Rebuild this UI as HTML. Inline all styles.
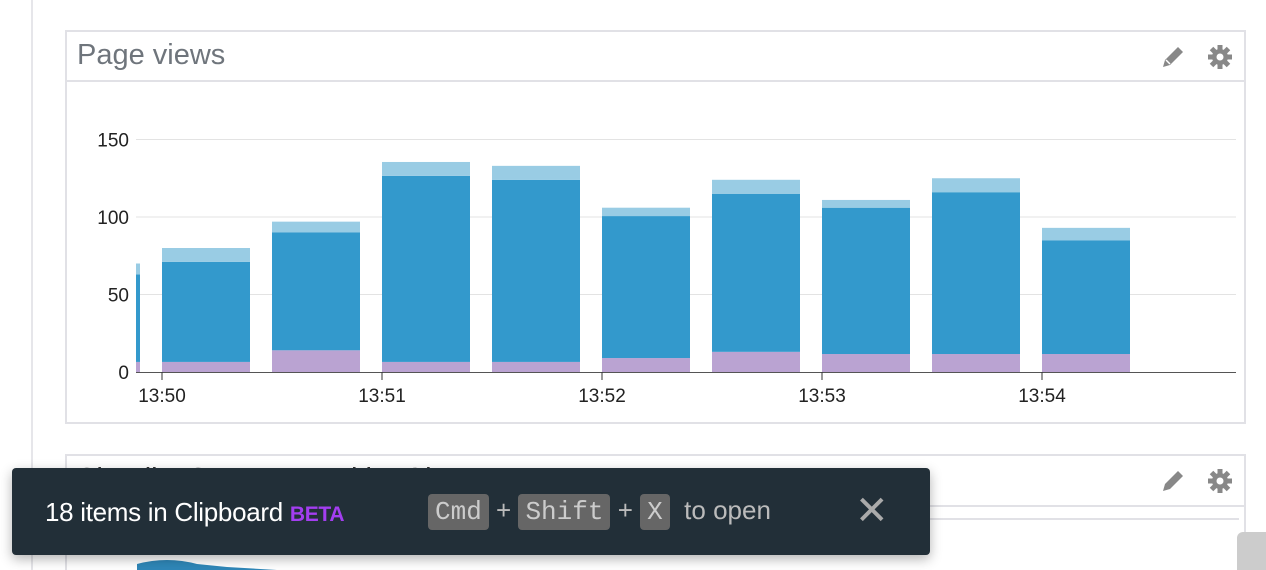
<!DOCTYPE html>
<html><head><meta charset="utf-8"><style>
html,body{margin:0;width:1266px;height:570px;overflow:hidden;background:#fff;font-family:"Liberation Sans",sans-serif;position:relative}
.abs{position:absolute}
.panel{position:absolute;left:65px;border:2px solid #e1e1e6;background:#fff;box-sizing:border-box}
.title{position:absolute;left:10px;top:7px;font-size:29px;color:#6f757c}
.hline{position:absolute;left:0;right:0;height:2px;background:#e1e1e6}
.key{display:inline-block;background:#666;color:#ccc;font-family:"Liberation Mono",monospace;border-radius:4px;padding:0 7px;font-size:26px;line-height:36px}
</style></head><body>
<div class="abs" style="left:31px;top:0;width:2px;height:570px;background:#e6e6ea"></div>
<div class="panel" style="top:30px;width:1181px;height:394px">
 <div class="title">Page views</div>
 <div class="hline" style="top:48px"></div>
 <svg class="abs" style="left:1093px;top:12px" width="26" height="26"><path d="M3 23 L5 16 L18 3 L23 8 L10 21 Z" fill="#888"/><path d="M6 16 L10 20" stroke="#fff" stroke-width="1.5"/></svg>
 <svg class="abs" style="left:1140px;top:12px" width="26" height="26"><g fill="#888" transform="translate(13,13)"><circle r="8"/><rect x="-2.5" y="-12" width="5" height="24"/><rect x="-2.5" y="-12" width="5" height="24" transform="rotate(45)"/><rect x="-2.5" y="-12" width="5" height="24" transform="rotate(90)"/><rect x="-2.5" y="-12" width="5" height="24" transform="rotate(135)"/></g><circle cx="13" cy="13" r="3.5" fill="#fff"/></svg>
</div>
<svg class="abs" style="left:0;top:0" width="1266" height="430" id="chart"></svg>
<div class="panel" style="top:454px;width:1181px;height:140px">
 <div class="title" style="color:#333">Shoplist System Load by Cluster</div>
 <div class="hline" style="top:49px"></div>
 <div class="hline" style="top:62px;left:5px;right:5px"></div>
 <svg class="abs" style="left:1093px;top:12px" width="26" height="26"><path d="M3 23 L5 16 L18 3 L23 8 L10 21 Z" fill="#888"/></svg>
 <svg class="abs" style="left:1140px;top:12px" width="26" height="26"><g fill="#888" transform="translate(13,13)"><circle r="8"/><rect x="-2.5" y="-12" width="5" height="24"/><rect x="-2.5" y="-12" width="5" height="24" transform="rotate(45)"/><rect x="-2.5" y="-12" width="5" height="24" transform="rotate(90)"/><rect x="-2.5" y="-12" width="5" height="24" transform="rotate(135)"/></g><circle cx="13" cy="13" r="3.5" fill="#fff"/></svg>
 <svg class="abs" style="left:70px;top:100px" width="140" height="20"><path d="M0 8 Q30 0 60 8 L90 11 L140 14 L140 20 L0 20Z" fill="#2f87b8"/></svg>
</div>
<div class="abs" style="left:1237px;top:532px;width:40px;height:50px;background:#ccc;border-radius:6px"></div>
<div class="abs" style="left:12px;top:468px;width:918px;height:87px;background:#222f38;border-radius:4px;box-shadow:0 4px 12px rgba(0,0,0,.3);color:#fff">
 <div class="abs" style="left:33px;top:29px;font-size:26px;letter-spacing:-0.3px">18 items in Clipboard <b style="color:#a33ef0;font-size:21px">BETA</b></div>
 <div class="abs" style="left:416px;top:26px;font-size:26px;color:#bbb;white-space:nowrap"><span class="key">Cmd</span> + <span class="key">Shift</span> + <span class="key">X</span>&nbsp; to open</div>
 <div class="abs" style="left:843px;top:20px;font-size:40px;color:#aaa;font-weight:100">✕</div>
</div>
<script>
const categories=["13:49:30","13:50","13:50:30","13:51","13:51:30","13:52","13:52:30","13:53","13:53:30","13:54"];
const purple=[6.5,6.5,14,6.5,6.5,9,13,11.6,11.6,11.6];
const blue=[56.5,64.5,76,120,117.5,91.6,102,94.4,104.4,73.4];
const light=[7,9,7,9,9,5.4,9,5,9,8];
const yTicks=[0,50,100,150];
const xTicks=["13:50","13:51","13:52","13:53","13:54"];
const svg=document.getElementById('chart');const NS="http://www.w3.org/2000/svg";
const x0=136,x1=1236,y0=372,ppu=1.55;
const y=v=>y0-v*ppu;
const bx=i=>52+i*110;
function el(t,a){const e=document.createElementNS(NS,t);for(const k in a)e.setAttribute(k,a[k]);svg.appendChild(e);return e;}
yTicks.forEach(t=>{if(t>0){const l=el('line',{x1:x0,x2:x1,y1:y(t),y2:y(t),stroke:'#e3e3e3','stroke-width':1});

}
 const tx=el('text',{x:129,y:y(t)+7,'text-anchor':'end','font-size':19,fill:'#222','font-family':'Liberation Sans'});tx.textContent=t;

});
const clip=el('clipPath',{id:'c'});const cr=document.createElementNS(NS,'rect');cr.setAttribute('x',x0);cr.setAttribute('y',0);cr.setAttribute('width',x1-x0);cr.setAttribute('height',400);clip.appendChild(cr);
categories.forEach((c,i)=>{const X=bx(i),W=88;let base=0;
 [[purple[i],'#baa3d2'],[blue[i],'#3399cc'],[light[i],'#99cce4']].forEach(([v,col])=>{
  const r=el('rect',{x:X,y:y(base+v),width:W,height:v*ppu,fill:col,'clip-path':'url(#c)'});
  
  
  base+=v;});});
const ax=el('line',{x1:x0,x2:x1,y1:y0+0.5,y2:y0+0.5,stroke:'#555','stroke-width':1});


xTicks.forEach((t,i)=>{const X=162+i*220;el('line',{x1:X,x2:X,y1:y0,y2:y0+8,stroke:'#333'});
 const tx=el('text',{x:X,y:402,'text-anchor':'middle','font-size':19,fill:'#222','font-family':'Liberation Sans'});tx.textContent=t;
 
 });
</script>
</body></html>
